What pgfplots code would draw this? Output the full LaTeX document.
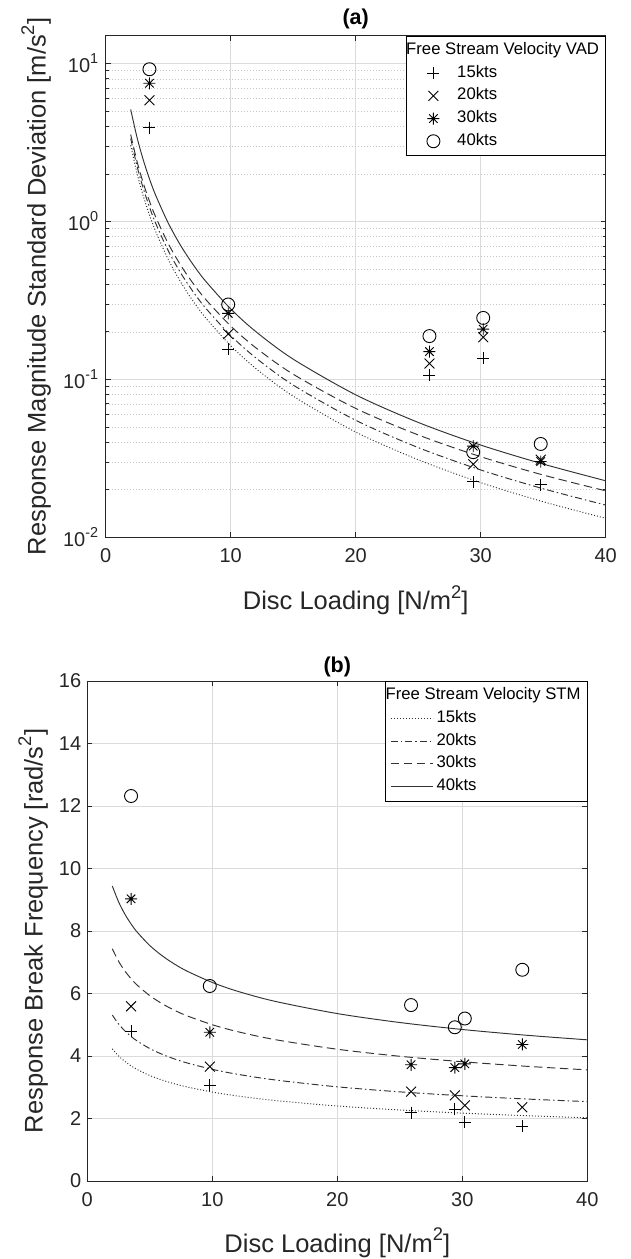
\documentclass[border=0pt]{standalone}
\usepackage{fontspec}
\setmainfont{Liberation Sans}
\usepackage{pgfplots}
\pgfplotsset{compat=1.18}
\usetikzlibrary{plotmarks}
\newcommand{\sups}[1]{\raisebox{0.45em}{\scalebox{0.72}{#1}}}
\makeatletter
\pgfdeclareplotmark{star8}{%
  \pgfpathmoveto{\pgfqpoint{-\pgfplotmarksize}{0pt}}\pgfpathlineto{\pgfqpoint{\pgfplotmarksize}{0pt}}%
  \pgfpathmoveto{\pgfqpoint{0pt}{-\pgfplotmarksize}}\pgfpathlineto{\pgfqpoint{0pt}{\pgfplotmarksize}}%
  \pgfpathmoveto{\pgfqpoint{-.70710678\pgfplotmarksize}{-.70710678\pgfplotmarksize}}\pgfpathlineto{\pgfqpoint{.70710678\pgfplotmarksize}{.70710678\pgfplotmarksize}}%
  \pgfpathmoveto{\pgfqpoint{-.70710678\pgfplotmarksize}{.70710678\pgfplotmarksize}}\pgfpathlineto{\pgfqpoint{.70710678\pgfplotmarksize}{-.70710678\pgfplotmarksize}}%
  \pgfusepathqstroke}
\makeatother
\definecolor{axgray}{RGB}{38,38,38}
\definecolor{curvecol}{RGB}{50,50,50}
\pgfplotsset{
  mystyle/.style={
    scale only axis, width=500pt,
    xmin=0, xmax=40, xtick={0,10,20,30,40},
    /pgf/number format/assume math mode=true,
    tick label style={font=\fontsize{20}{24}\selectfont, text=axgray},
    xticklabel style={yshift=-7.5pt},
    label style={font=\fontsize{25.5}{30}\selectfont, text=axgray},
    every axis title/.style={at={(0.5,1)}, anchor=south, font=\fontsize{21.5}{25}\selectfont\bfseries, text=black},
    axis line style={axgray, line width=0.8pt},
    tick style={axgray, line width=0.8pt},
    tick align=inside, major tick length=5pt, minor tick length=3pt,
    grid=major, major grid style={black!14, line width=0.7pt},
    legend cell align=left,
    legend style={at={(1,1)}, anchor=north east, draw=black, line width=0.8pt, fill=white,
      inner sep=3pt, font=\fontsize{16.7}{20}\selectfont,
      nodes={text height=12pt, text depth=4pt, inner sep=3.35pt}, row sep=0pt, column sep=0pt},
  },
  leglinestyle/.style={legend image code/.code={\path (0pt,-5pt) (44pt,5pt); \draw (2pt,0pt) -- (44pt,0pt);}},
  legmarkstyle/.style={legend image code/.code={\path (0pt,-5pt) (44pt,5pt); \draw[only marks] plot coordinates {(24pt,0pt)};}},
  mk/.style={only marks, black, line width=0.9pt, mark size=6pt},
  cv/.style={curvecol, line width=0.95pt, smooth, no marks},
  dotst/.style={dash pattern=on 1pt off 2pt},
  dashdotst/.style={dash pattern=on 7pt off 3pt on 1.5pt off 3pt},
  dashst/.style={dash pattern=on 8.5pt off 4.5pt},
}
\begin{document}
\begin{tikzpicture}
% ---------------- (a) ----------------
\begin{axis}[mystyle, at={(105.7pt,-537.3pt)}, anchor=south west, height=501.6pt,
  ymode=log, ymin=0.01, ymax=15, ytick={0.01,0.1,1,10},
  yticklabels={10\sups{-2},10\sups{-1},10\sups{0},10\sups{1}},
  yticklabel style={xshift=-4pt},
  yminorgrids=true, minor grid style={black!22, dash pattern=on 1pt off 2pt, line width=0.6pt},
  title={(a)}, title style={yshift=3pt},
  xlabel={Disc Loading [N/m\sups{2}]},
  ylabel={Response Magnitude Standard Deviation [m/s\sups{2}]},
  xlabel style={at={(axis description cs:0.5,-0.125)}, anchor=center},
  ylabel style={at={(axis description cs:-0.139,0.5)}, anchor=center},
]
\addplot[cv, forget plot] coordinates {(2,5.12)(2.5,3.421)(3,2.461)(3.5,1.862)(4,1.463)(5,0.9777)(6,0.7032)(7,0.5323)(8,0.4182)(10,0.2795)(12,0.2010)(15,0.1343)(20,0.0799)(25,0.0534)(30,0.0384)(35,0.0291)(40,0.0228)};
\addplot[cv, dashst, forget plot] coordinates {(2,3.55)(2.5,2.411)(3,1.7575)(3.5,1.3452)(4,1.0672)(5,0.7248)(6,0.5283)(7,0.4045)(8,0.3208)(10,0.2178)(12,0.1588)(15,0.1078)(20,0.0655)(25,0.0445)(30,0.0324)(35,0.0248)(40,0.0197)};
\addplot[cv, dashdotst, forget plot] coordinates {(2,3.35)(2.5,2.250)(3,1.6252)(3.5,1.2344)(4,0.9727)(5,0.6533)(6,0.4719)(7,0.3585)(8,0.2825)(10,0.1897)(12,0.1370)(15,0.0920)(20,0.0551)(25,0.0370)(30,0.0267)(35,0.0203)(40,0.0160)};
\addplot[cv, dotst, forget plot] coordinates {(2,3.04)(2.5,2.027)(3,1.4558)(3.5,1.1003)(4,0.8634)(5,0.5758)(6,0.4135)(7,0.3125)(8,0.2452)(10,0.1635)(12,0.1174)(15,0.0783)(20,0.0464)(25,0.0310)(30,0.0222)(35,0.0168)(40,0.0132)};
\addlegendimage{empty legend}
\addlegendentry{\hspace*{-51pt}Free Stream Velocity VAD}
\addplot[mk, mark=+, legmarkstyle] coordinates {(3.5,3.93)(9.8,0.155)(25.9,0.106)(29.4,0.0225)(30.2,0.136)(34.8,0.0215)};
\addlegendentry{15kts}
\addplot[mk, mark=x, mark size=7pt, legmarkstyle] coordinates {(3.5,5.85)(9.8,0.194)(25.9,0.126)(29.4,0.029)(30.2,0.185)(34.8,0.031)};
\addlegendentry{20kts}
\addplot[mk, mark=star8, legmarkstyle] coordinates {(3.5,7.5)(9.8,0.262)(25.9,0.150)(29.4,0.0378)(30.2,0.208)(34.8,0.0302)};
\addlegendentry{30kts}
\addplot[mk, mark=o, mark size=6.5pt, legmarkstyle] coordinates {(3.5,9.2)(9.8,0.298)(25.9,0.188)(29.4,0.0346)(30.2,0.245)(34.8,0.039)};
\addlegendentry{40kts}
\end{axis}
% ---------------- (b) ----------------
\begin{axis}[mystyle, at={(87.3pt,-1181pt)}, anchor=south west, height=500pt,
  ymin=0, ymax=16, ytick={0,2,4,6,8,10,12,14,16},
  yticklabel style={xshift=-2.6pt},
  title={(b)}, title style={yshift=1pt},
  xlabel={Disc Loading [N/m\sups{2}]},
  ylabel={Response Break Frequency [rad/s\sups{2}]},
  xlabel style={at={(axis description cs:0.5,-0.123)}, anchor=center},
  ylabel style={at={(axis description cs:-0.1086,0.5)}, anchor=center},
]
\addlegendimage{empty legend}
\addlegendentry{\hspace*{-51pt}Free Stream Velocity STM}
\addplot[cv, dotst, leglinestyle] coordinates {(2,4.23)(2.5,4.004)(3,3.828)(3.5,3.686)(4,3.567)(5,3.376)(6,3.228)(7,3.108)(8,3.008)(10,2.847)(12,2.722)(15,2.577)(20,2.401)(25,2.273)(30,2.173)(35,2.092)(40,2.024)};
\addlegendentry{15kts}
\addplot[cv, dashdotst, leglinestyle] coordinates {(2,5.31)(2.5,5.026)(3,4.806)(3.5,4.627)(4,4.478)(5,4.238)(6,4.053)(7,3.902)(8,3.776)(10,3.574)(12,3.417)(15,3.235)(20,3.014)(25,2.853)(30,2.728)(35,2.626)(40,2.541)};
\addlegendentry{20kts}
\addplot[cv, dashst, leglinestyle] coordinates {(2,7.43)(2.5,7.033)(3,6.725)(3.5,6.474)(4,6.265)(5,5.931)(6,5.671)(7,5.459)(8,5.283)(10,5.001)(12,4.782)(15,4.526)(20,4.217)(25,3.992)(30,3.817)(35,3.675)(40,3.556)};
\addlegendentry{30kts}
\addplot[cv, leglinestyle] coordinates {(2,9.44)(2.5,8.936)(3,8.544)(3.5,8.226)(4,7.960)(5,7.535)(6,7.205)(7,6.936)(8,6.712)(10,6.354)(12,6.075)(15,5.751)(20,5.358)(25,5.072)(30,4.849)(35,4.669)(40,4.518)};
\addlegendentry{40kts}
\addplot[mk, mark=+, forget plot] coordinates {(3.5,4.80)(9.8,3.06)(25.9,2.19)(29.4,2.30)(30.2,1.88)(34.8,1.75)};
\addplot[mk, mark=x, mark size=7pt, forget plot] coordinates {(3.5,5.59)(9.8,3.66)(25.9,2.86)(29.4,2.74)(30.2,2.42)(34.8,2.36)};
\addplot[mk, mark=star8, forget plot] coordinates {(3.5,9.03)(9.8,4.76)(25.9,3.72)(29.4,3.63)(30.2,3.75)(34.8,4.37)};
\addplot[mk, mark=o, mark size=6.5pt, forget plot] coordinates {(3.5,12.32)(9.8,6.24)(25.9,5.63)(29.4,4.92)(30.2,5.20)(34.8,6.76)};
\end{axis}
\pgfresetboundingbox
\path[use as bounding box] (0pt,0pt) rectangle (630pt,-1259pt);
\end{tikzpicture}
\end{document}
